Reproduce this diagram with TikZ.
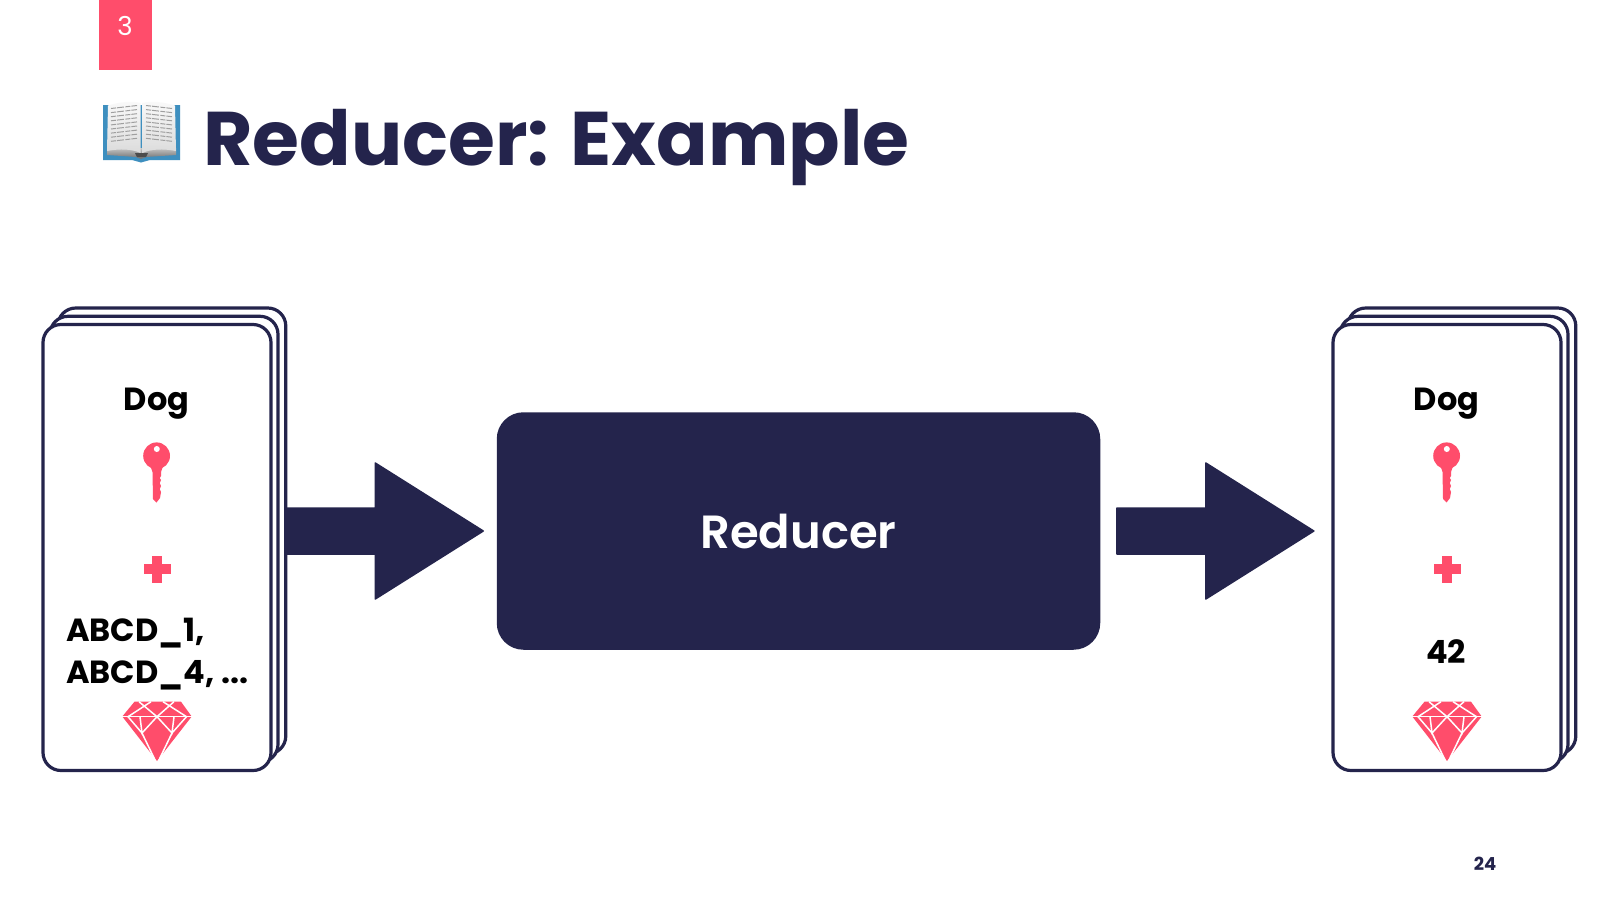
\documentclass[tikz,border=0pt]{standalone}
\usepackage{fontspec}
\setmainfont{Poppins}
\newfontfamily\semifont{Poppins SemiBold}
\usetikzlibrary{calc}
\definecolor{navy}{HTML}{24244C}
\definecolor{coral}{HTML}{FF4D6B}
\definecolor{bookblue}{HTML}{3E8FBF}
\tikzset{
  x=1pt,y=-1pt,
  sheet/.style={draw=navy,line width=3.2pt,fill=white,rounded corners=18pt,minimum width=228pt,minimum height=446pt,inner sep=0pt,outer sep=0pt},
  blockarrow/.style={fill=navy,draw=navy,line width=1.5pt,line join=round},
  cardtext/.style={font=\fontsize{32}{41.5}\selectfont\bfseries,text=black,align=left,inner sep=0pt},
  facet/.style={draw=white,line width=1.5pt},
  pagerule/.style={draw=gray!75,line width=1pt,dash pattern=on 5pt off 1pt on 7pt off 1.5pt},
}
% block arrow from one point to another, horizontal
\newcommand{\blockarrowpath}[2]{%
  \draw[blockarrow] ($(#1)+(0,-23)$) -- ($(#2)+(-108,-23)$) -- ($(#2)+(-108,-68)$) -- (#2)
    -- ($(#2)+(-108,68)$) -- ($(#2)+(-108,23)$) -- ($(#1)+(0,23)$) -- cycle;}
% key, plus and gem icons around a card centre
\newcommand{\cardicons}[1]{%
  \begin{scope}[shift={(#1,0)}]
    \fill[coral] (156.6,455.8) circle (13.4);
    \fill[white] (156.8,449) circle (3);
    \fill[coral] (150.5,466) -- (163,466) -- (161,472) -- (161,476) -- (159.8,478) -- (161,480) -- (159.8,483) -- (161,486) -- (159.8,489) -- (161,492) -- (160,498) -- (156.5,502.5) -- (153,499) -- (152.5,472) -- cycle;
    \fill[coral] (152.3,555.7) rectangle (162.3,582.7);
    \fill[coral] (143.5,564.2) rectangle (171.2,574.2);
    \fill[coral] (134.5,701.7) -- (181,701.7) -- (191.7,716.5) -- (157,761) -- (122.3,716.5) -- cycle;
    % gem facets
    \draw[facet] (122.3,716.7) -- (191.7,716.7);
    \draw[facet] (139,701.7) -- (157,716.7) -- (174,701.7);
    \draw[facet] (151,701.7) -- (128,716.7);
    \draw[facet] (163,701.7) -- (186.5,716.7);
    \draw[facet] (128,716.7) -- (142,733) -- (155.5,761);
    \draw[facet] (186.5,716.7) -- (172,733) -- (158.5,761);
    \draw[facet] (140,716.7) -- (142,733) -- (157,716.7) -- (172,733) -- (174,716.7);
  \end{scope}}
\begin{document}
\begin{tikzpicture}
\useasboundingbox (0,0) rectangle (1600,900);
\fill[white] (0,0) rectangle (1600,900);

% section tag
\node[fill=coral,minimum width=53.5pt,minimum height=70pt,inner sep=0pt,anchor=north west] (tag) at (98.5,0) {};
\node[text=white,font=\fontsize{26}{30}\selectfont] (tagnum) at (125,26) {3};

% open book beside the title
\fill[bookblue] (103,105) -- (180,105) -- (180,160) -- (150,160) -- (141,162.5) -- (132,160) -- (103,160) -- cycle;
\shade[top color=gray!45,bottom color=gray!85!black] (107,148) -- (176,148) -- (176,155) -- (146,157) -- (141,159) -- (136,157) -- (107,155) -- cycle;
\shade[top color=gray!4,bottom color=gray!28] (108,105.5) .. controls (120,102) and (132,100.5) .. (140.5,103) -- (140.5,153) .. controls (132,149) and (120,148.5) .. (107,151) -- cycle;
\shade[top color=gray!4,bottom color=gray!28] (175,105.5) .. controls (163,102) and (151,100.5) .. (142.5,103) -- (142.5,153) .. controls (151,149) and (163,148.5) .. (176,151) -- cycle;
\fill[black!70] (135,153) -- (148,153) -- (146,157) -- (137,157) -- cycle;
\foreach \r in {0,...,8}{
  \draw[pagerule] (111,{108.5+\r*4.1}) -- (137,{105.5+\r*4.1});
  \draw[pagerule] (146,{105.5+\r*4.1}) -- (172,{108.5+\r*4.1});
}

% title and page number
\node[anchor=base west,text=navy,inner sep=0pt,font=\fontsize{76}{80}\selectfont\bfseries] (title) at (203,165.5) {Reducer: Example};
\node[text=navy,font=\fontsize{18}{20}\selectfont\bfseries] (pagenum) at (1485,864) {24};

% input stack
\node[sheet] (lback) at (171.8,531) {};
\node[sheet] (lmid) at (164,539.3) {};
\node[sheet] (lfront) at (157,547.5) {};
% output stack
\node[sheet] (rback) at (1461.8,531) {};
\node[sheet] (rmid) at (1454,539.3) {};
\node[sheet] (rfront) at (1447,547.5) {};

% reducer
\node[fill=navy,draw=navy,line width=1.5pt,rounded corners=26pt,minimum width=602pt,minimum height=236pt,inner sep=0pt,text=white,font=\fontsize{46.5}{56}\selectfont\semifont] (reducer) at (798.5,531) {\raisebox{-2.5pt}{Reducer}};

% arrows
\coordinate (ltip) at ($(reducer.west)+(-13.5,0)$);
\coordinate (rtail) at ($(reducer.east)+(16.5,0)$);
\coordinate (rtip) at ($(rback.west)+(-34,0)$);
\blockarrowpath{lback.east}{ltip}
\blockarrowpath{rtail}{rtip}

% card contents
\node[cardtext] (ldog) at (156.5,404) {Dog};
\node[cardtext] (rdog) at (1446.5,404) {Dog};
\cardicons{0}
\cardicons{1290}
\node[cardtext,anchor=north west] (lvals) at (66,618) {ABCD\_1,\\ABCD\_4, ...};
\node[cardtext] (rval) at (1446,652) {42};
\end{tikzpicture}
\end{document}
